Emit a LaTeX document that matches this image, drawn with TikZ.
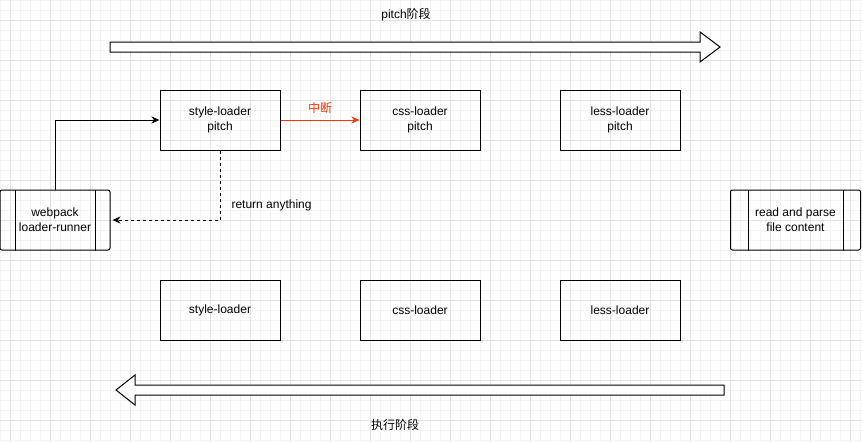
\documentclass[tikz,border=0pt]{standalone}
\usepackage{fontspec}
\setmainfont{Liberation Sans}
\newfontfamily\cjkfont{Noto Sans CJK SC}
\usetikzlibrary{arrows.meta}
\definecolor{gridminor}{RGB}{244,244,244}
\definecolor{gridmajor}{RGB}{226,226,226}
\definecolor{breakred}{HTML}{FF3300}

\begin{document}
\begin{tikzpicture}[
    x=1pt, y=-1pt,
    every node/.style={font=\fontsize{12}{15}\selectfont},
    loader/.style={
        draw, line width=1pt,
        minimum width=120pt, minimum height=60pt,
        align=center, inner sep=0pt
    },
    runner/.style={
        draw, line width=1pt, rounded corners=2pt,
        minimum height=60pt,
        align=center, inner sep=0pt
    },
    link/.style={
        -{Stealth[length=8pt, width=7pt, inset=2.5pt]},
        line width=1pt
    },
    bigarrow/.style={
        draw, fill=white, line width=1pt, line join=miter
    }
]

\useasboundingbox (0,0) rectangle (862,442);

% =================== Background grid ===================
\foreach \gx in {0,10,...,860}
    \draw[gridminor, line width=0.6pt] (\gx,0) -- (\gx,442);
\foreach \gy in {0,10,...,440}
    \draw[gridminor, line width=0.6pt] (0,\gy) -- (862,\gy);
\foreach \gx in {10,50,...,850}
    \draw[gridmajor, line width=0.8pt] (\gx,0) -- (\gx,442);
\foreach \gy in {20,60,...,420}
    \draw[gridmajor, line width=0.8pt] (0,\gy) -- (862,\gy);

% =================== Phase arrows ===================
\draw[bigarrow]
    (110,42) -- (700,42) -- (700,32) -- (720,47) -- (700,62)
    -- (700,52) -- (110,52) -- cycle;
\node (pitchphase) at (406,15) {pitch{\cjkfont 阶段}};

\draw[bigarrow]
    (724,385) -- (135,385) -- (135,375) -- (116,390) -- (135,405)
    -- (135,395) -- (724,395) -- cycle;
\node (execphase) at (395,425) {{\cjkfont 执行阶段}};

% =================== Pitch loaders ===================
\node[loader] (stylepitch) at (220,120) {style-loader\\pitch};
\node[loader] (csspitch)   at (420,120) {css-loader\\pitch};
\node[loader] (lesspitch)  at (620,120) {less-loader\\pitch};

% =================== Normal loaders ===================
\node[loader] (styleexec) at (220,310) {style-loader};
\node[loader] (cssexec)   at (420,310) {css-loader};
\node[loader] (lessexec)  at (620,310) {less-loader};

% =================== Process boxes ===================
\node[runner, minimum width=110pt] (loaderrunner) at (55,220) {webpack\\loader-runner};
\draw[line width=1pt]
    ([xshift=15.7pt]loaderrunner.north west) -- ([xshift=15.7pt]loaderrunner.south west)
    ([xshift=-15pt]loaderrunner.north east) -- ([xshift=-15pt]loaderrunner.south east);

\node[runner, minimum width=130pt] (readfile) at (795.5,220) {read and parse\\file content};
\draw[line width=1pt]
    ([xshift=18.5pt]readfile.north west) -- ([xshift=18.5pt]readfile.south west)
    ([xshift=-18pt]readfile.north east) -- ([xshift=-18pt]readfile.south east);

% =================== Connectors ===================
\draw[link] (loaderrunner.north) |- (stylepitch.west);
\draw[link, draw=breakred] (stylepitch.east) -- node[above=3pt, text=breakred] (breaklabel) {{\cjkfont 中断}} (csspitch.west);
\draw[link, dashed] (stylepitch.south) |- ([xshift=2pt]loaderrunner.east);
\node[anchor=west] (returnlabel) at (228,205) {return anything};

\end{tikzpicture}
\end{document}
